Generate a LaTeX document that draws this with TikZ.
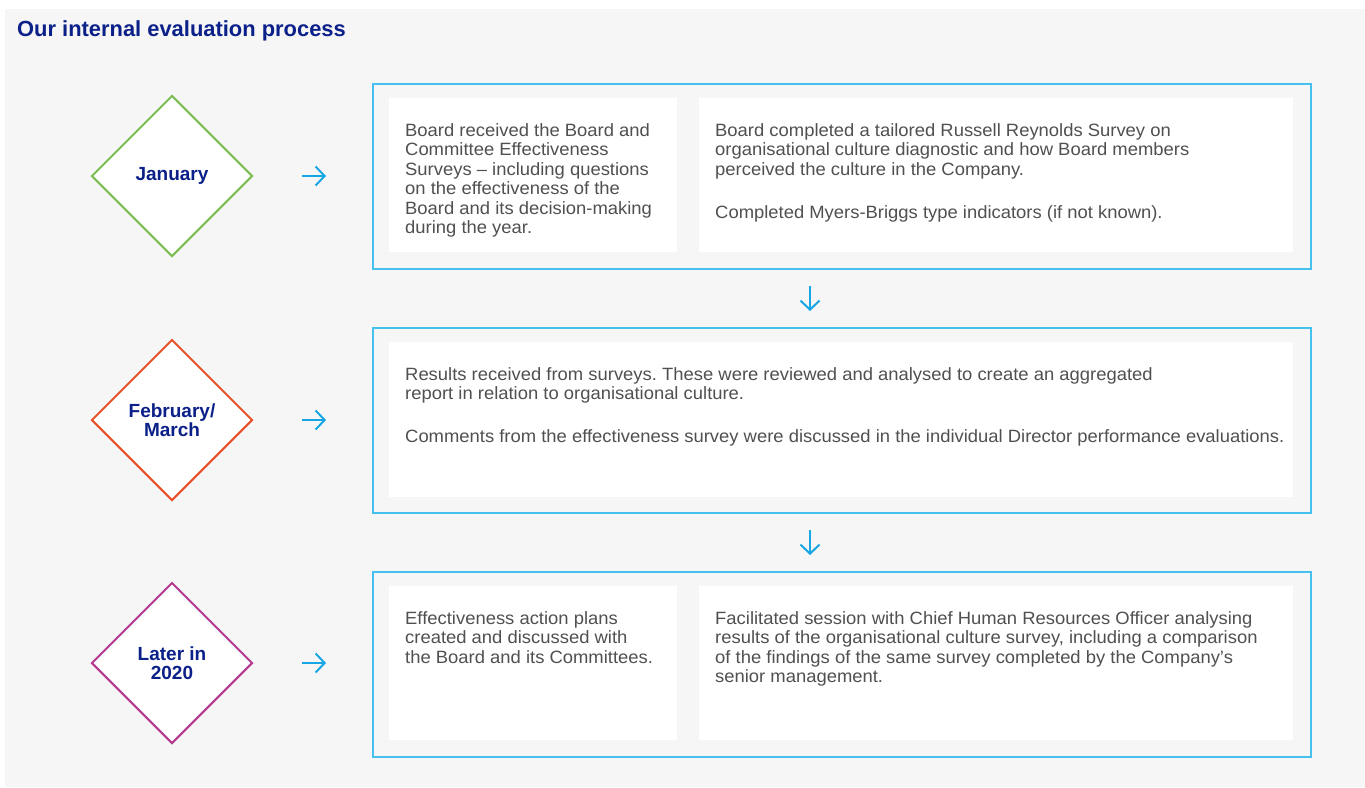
\documentclass[tikz,border=0pt]{standalone}
\usepackage{fontspec}
\setmainfont{Liberation Sans}
\newfontfamily\bodyfont[FakeStretch=1.035]{Liberation Sans}
\usetikzlibrary{shapes.geometric,arrows.meta,positioning}
\frenchspacing
\definecolor{bgc}{HTML}{F6F6F6}
\definecolor{navy}{HTML}{0B2088}
\definecolor{txt}{HTML}{505050}
\definecolor{boxblue}{HTML}{46C0EE}
\definecolor{arrblue}{HTML}{16A6E4}
\definecolor{cgreen}{HTML}{7DBD55}
\definecolor{corange}{HTML}{E9512A}
\definecolor{cmag}{HTML}{B53A8F}
\tikzset{
  month/.style={diamond,aspect=1,minimum size=161pt,inner sep=0pt,fill=white,line width=2pt,
     font=\fontsize{19}{19.5}\selectfont\bfseries,text=navy,align=center},
  outer/.style={draw=boxblue,line width=2pt,anchor=north west,inner sep=0pt},
  inner/.style={fill=white,anchor=north west,inner sep=0pt},
  body/.style={anchor=north west,inner sep=0pt,text=txt,align=left,
     font=\bodyfont\fontsize{17.8}{19.5}\selectfont},
  arr/.style={draw=arrblue,line width=2pt,-{Straight Barb[length=9pt,width=19pt,line width=2pt]}},
}
\begin{document}
\begin{tikzpicture}[x=1pt,y=-1pt]
\useasboundingbox (0,0) rectangle (1365,787);
\fill[bgc] (5,9) rectangle (1365,787);
\node[anchor=west,inner sep=0pt,text=navy,font=\fontsize{21.9}{24}\selectfont\bfseries] (title) at (17,31) {Our internal evaluation process};

% diamonds
\node[month,draw=cgreen] (d1) at (172,176) {January};
\node[month,draw=corange] (d2) at (172,420) {February/\\March};
\node[month,draw=cmag] (d3) at (172,663) {Later in\\2020};

% outer boxes
\node[outer,minimum width=938pt,minimum height=185pt] (b1) at (372,83) {};
\node[outer,minimum width=938pt,minimum height=185pt] (b2) at (372,327) {};
\node[outer,minimum width=938pt,minimum height=185pt] (b3) at (372,571) {};

% inner boxes
\node[inner,minimum width=288pt,minimum height=154pt] (i1a) at (389,98) {};
\node[inner,minimum width=594pt,minimum height=154pt] (i1b) at (699,98) {};
\node[inner,minimum width=904pt,minimum height=155pt] (i2) at (389,342) {};
\node[inner,minimum width=288pt,minimum height=154pt] (i3a) at (389,586) {};
\node[inner,minimum width=594pt,minimum height=154pt] (i3b) at (699,586) {};

% texts
\node[body] (t1a) at (405,123) {Board received the Board and\\Committee Effectiveness\\Surveys – including questions\\on the effectiveness of the\\Board and its decision-making\\during the year.};
\node[body] (t1b) at (715,123) {Board completed a tailored Russell Reynolds Survey on\\organisational culture diagnostic and how Board members\\perceived the culture in the Company.\\[4pt]\\Completed Myers-Briggs type indicators (if not known).};
\node[body] (t2) at (405,367) {Results received from surveys. These were reviewed and analysed to create an aggregated\\report in relation to organisational culture.\\[4pt]\\Comments from the effectiveness survey were discussed in the individual Director performance evaluations.};
\node[body] (t3a) at (405,611) {Effectiveness action plans\\created and discussed with\\the Board and its Committees.};
\node[body] (t3b) at (715,611) {Facilitated session with Chief Human Resources Officer analysing\\results of the organisational culture survey, including a comparison\\of the findings of the same survey completed by the Company’s\\senior management.};

% arrows
\draw[arr,shorten <=48pt,shorten >=46pt] (d1.east) -- (b1.west |- d1.east);
\draw[arr,shorten <=48pt,shorten >=46pt] (d2.east) -- (b2.west |- d2.east);
\draw[arr,shorten <=48pt,shorten >=46pt] (d3.east) -- (b3.west |- d3.east);
\draw[arr,shorten <=16pt,shorten >=16pt] ([xshift=-32pt]b1.south) -- ([xshift=-32pt]b2.north);
\draw[arr,shorten <=16pt,shorten >=16pt] ([xshift=-32pt]b2.south) -- ([xshift=-32pt]b3.north);
\end{tikzpicture}
\end{document}
